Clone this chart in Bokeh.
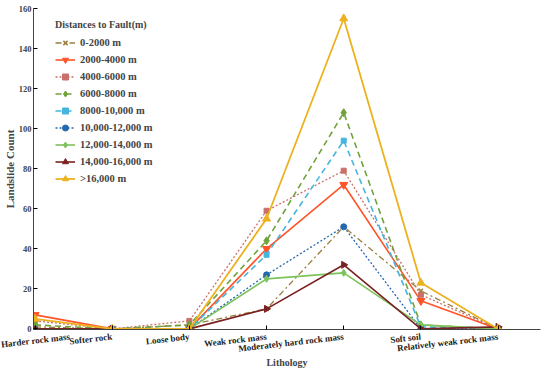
from bokeh.plotting import figure
from bokeh.models import Range1d, FixedTicker, Legend
from bokeh.embed import file_html
from bokeh.resources import INLINE

categories = ["Harder rock mass", "Softer rock", "Loose body", "Weak rock mass",
              "Moderately hard rock mass", "Soft soil", "Relatively weak rock mass"]
series_names = ["0-2000 m", "2000-4000 m", "4000-6000 m", "6000-8000 m", "8000-10,000 m",
                "10,000-12,000 m", "12,000-14,000 m", "14,000-16,000 m", ">16,000 m"]
s_0_2000 = [1, 0, 2, 10, 51, 19, 0]
s_2000_4000 = [7, 0, 0, 40, 72, 14, 0]
s_4000_6000 = [4, 0, 4, 59, 79, 17, 0]
s_6000_8000 = [2, 0, 2, 44, 108, 2, 0]
s_8000_10000 = [0, 0, 0, 37, 94, 1, 0]
s_10000_12000 = [0, 0, 0, 27, 51, 0, 0]
s_12000_14000 = [0, 0, 0, 25, 28, 2, 0]
s_14000_16000 = [0, 0, 0, 10, 32, 0, 1]
s_16000_plus = [5, 0, 0, 55, 155, 23, 0]
y_ticks = [0, 20, 40, 60, 80, 100, 120, 140, 160]

all_series = [s_0_2000, s_2000_4000, s_4000_6000, s_6000_8000, s_8000_10000,
              s_10000_12000, s_12000_14000, s_14000_16000, s_16000_plus]
colors = ["#9A7E3E", "#FF5428", "#C9706A", "#6FA33A", "#45B5DE",
          "#2468B0", "#7DC25A", "#7A2222", "#EDB120"]
dashes = ["6 3 2 3", "solid", "2 2", "6 4", "6 4", "2 2", "solid", "solid", "solid"]
widths = [1.3, 1.6, 1.3, 1.6, 1.6, 1.3, 1.6, 1.6, 1.8]
markers = ["x", "inverted_triangle", "square", "diamond", "square",
           "circle", "diamond", "triangle", "triangle"]
angles = [0, 0, 0, 0, 0, 0, 0, -1.5708, 0]
sizes = [6, 8, 5, 8, 5, 6, 7, 7, 8]

x_idx = list(range(len(categories)))
FONT = "Liberation Serif"

p = figure(width=550, height=371, output_backend="svg", toolbar_location=None,
           x_range=Range1d(-0.02, 6.55), y_range=Range1d(-0.3, 160),
           min_border_left=27, min_border_right=10, min_border_top=8, min_border_bottom=42)
p.outline_line_color = None
p.grid.visible = False
p.background_fill_color = "white"

items = []
for name, ys, c, d, w, m, a, s in zip(series_names, all_series, colors, dashes, widths,
                                     markers, angles, sizes):
    r1 = p.line(x_idx, ys, line_color=c, line_dash=d, line_width=w)
    if m == "x":
        r2 = p.scatter(x_idx, ys, marker=m, size=s, line_color=c, line_width=1.5, angle=a)
    else:
        r2 = p.scatter(x_idx, ys, marker=m, size=s, fill_color=c, line_color=c, angle=a)
    items.append((name, [r1, r2]))

legend = Legend(items=items, location=(22, 143), title="Distances to Fault(m)")
legend.title_text_font = FONT
legend.title_text_font_style = "bold"
legend.title_text_font_size = "10px"
legend.label_text_font = FONT
legend.label_text_font_style = "bold"
legend.label_text_font_size = "10.5px"
legend.glyph_height = 15
legend.glyph_width = 20
legend.label_height = 15
legend.label_standoff = 5
legend.spacing = 2
legend.padding = 6
legend.margin = 0
legend.border_line_color = None
legend.background_fill_alpha = 0
legend.title_standoff = 5
p.add_layout(legend)

xa = p.xaxis[0]
xa.ticker = FixedTicker(ticks=x_idx)
xa.major_label_overrides = {i: c for i, c in zip(x_idx, categories)}
xa.major_label_orientation = 0.115
xa.major_label_text_font = FONT
xa.major_label_text_font_style = "bold"
xa.major_label_text_font_size = "9px"
xa.major_label_text_color = "#222222"
xa.major_label_standoff = 7
xa.major_tick_in = 4
xa.major_tick_out = 0
xa.minor_tick_line_color = None
xa.axis_label = "Lithology"
xa.axis_label_text_font = FONT
xa.axis_label_text_font_style = "bold"
xa.axis_label_text_font_size = "10px"
xa.axis_label_standoff = -5
xa.axis_line_color = "#444444"

ya = p.yaxis[0]
ya.ticker = FixedTicker(ticks=y_ticks)
ya.major_tick_in = 4
ya.major_tick_out = 0
ya.minor_tick_line_color = None
ya.axis_label = "Landslide Count"
ya.axis_label_text_font = FONT
ya.axis_label_text_font_style = "bold"
ya.axis_label_text_font_size = "11px"
ya.axis_label_standoff = 0
ya.major_label_text_font = FONT
ya.major_label_text_font_style = "bold"
ya.major_label_text_font_size = "8.5px"
ya.major_label_standoff = 2
ya.axis_line_color = "#444444"

open("out.html", "w").write(file_html(p, INLINE))
